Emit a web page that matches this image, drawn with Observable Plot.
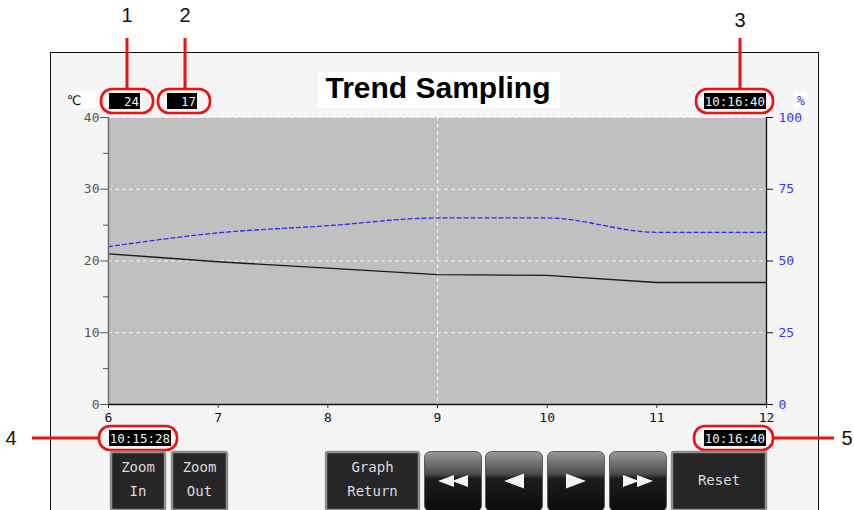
<!DOCTYPE html>
<html>
<head>
<meta charset="utf-8">
<script src="https://cdn.jsdelivr.net/npm/d3@7"></script>
<script src="https://cdn.jsdelivr.net/npm/@observablehq/plot@0.6"></script>
<style>
  html, body { margin: 0; padding: 0; background: #ffffff; }
  #chart { width: 854px; height: 510px; overflow: hidden; }
</style>
</head>
<body>
<div id="chart"></div>
<script>
// ---- data ----
const sampleX = [6, 7, 8, 9, 10, 11, 12];
const temperatureC = [21, 19.9, 19, 18.1, 18, 17, 17];
const humidityPct = [55, 59.8, 62.3, 65, 65, 60, 60];
const tempTicks = [0, 10, 20, 30, 40];
const tempMinorTicks = [5, 15, 25, 35];
const humidityTicks = [0, 25, 50, 75, 100];
const gridXTicks = [9];
const title = "Trend Sampling";
const cursorReadings = ["24", "17"];
const unitLeft = "℃";
const unitRight = "%";
const timeStart = "10:15:28";
const timeEnd = "10:16:40";
const timeCursor = "10:16:40";
const calloutNumbers = ["1", "2", "3", "4", "5"];
const textButtons = [["Zoom", "In"], ["Zoom", "Out"], ["Graph", "Return"], ["Reset"]];

const HUM_SCALE = 0.4; // 100 % spans the same height as 40 ℃
const tempData = sampleX.map((x, i) => ({x, v: temperatureC[i]}));
const humData = sampleX.map((x, i) => ({x, v: humidityPct[i] * HUM_SCALE}));

const MONO = "DejaVu Sans Mono, Liberation Mono, monospace";
const SANS = "Liberation Sans, Arial, sans-serif";

const plot = Plot.plot({
  width: 854,
  height: 510,
  marginLeft: 108,
  marginRight: 88,
  marginTop: 117,
  marginBottom: 106,
  style: {background: "transparent", overflow: "visible", fontFamily: MONO, fontSize: "13px"},
  x: {domain: [6, 12]},
  y: {domain: [0, 40]},
  marks: [
    Plot.frame({fill: "#c0c0c0", stroke: null}),
    Plot.gridY(tempTicks.filter(d => d > 0), {stroke: "#f2f2f2", strokeOpacity: 1, strokeDasharray: "4,3", strokeWidth: 1}),
    Plot.gridX(gridXTicks, {stroke: "#f2f2f2", strokeOpacity: 1, strokeDasharray: "4,3", strokeWidth: 1}),
    Plot.line(humData, {x: "x", y: "v", stroke: "#2a2aff", strokeWidth: 1.3, strokeDasharray: "4,3", curve: "monotone-x"}),
    Plot.line(tempData, {x: "x", y: "v", stroke: "#1a1a1a", strokeWidth: 1.4}),
    Plot.ruleX([6], {stroke: "#6e6e6e", strokeWidth: 1.5}),
    Plot.ruleX([12], {stroke: "#111", strokeWidth: 1.3}),
    Plot.ruleY([0], {stroke: "#111", strokeWidth: 1.3}),
    Plot.axisY({ticks: tempTicks, anchor: "left", tickSize: 8, tickPadding: 1, stroke: "#555", fill: "#555",
      fontSize: 13, tickFormat: d => String(d), label: null}),
    Plot.axisY({ticks: tempMinorTicks, anchor: "left", tickSize: 5, stroke: "#555", text: null, label: null}),
    Plot.axisY({ticks: humidityTicks.map(d => d * HUM_SCALE), anchor: "right", tickSize: 6, tickPadding: 6,
      stroke: "#111", fill: "#3535ff", fontSize: 13,
      tickFormat: d => String(Math.round(d / HUM_SCALE)), label: null}),
    Plot.axisX({ticks: sampleX, anchor: "bottom", tickSize: 4, tickPadding: 4, stroke: "#333", fill: "#111",
      fontSize: 13, tickFormat: d => String(d), label: null})
  ]
});

document.getElementById("chart").appendChild(plot);

// ---- HMI decorations around the chart ----
const svg = d3.select(plot);
const xs = plot.scale("x");
const x6 = xs.apply(6), x12 = xs.apply(12);

// panel background (behind the chart)
svg.insert("rect", ":first-child")
  .attr("x", 50.5).attr("y", 52.5).attr("width", 768).attr("height", 470)
  .attr("fill", "#f5f5f5").attr("stroke", "#111").attr("stroke-width", 1);
svg.insert("rect", ":first-child")
  .attr("x", 0).attr("y", 0).attr("width", 854).attr("height", 510).attr("fill", "#ffffff");

const deco = svg.append("g");
const defs = svg.append("defs");
const g1 = defs.append("linearGradient").attr("id", "gloss").attr("x1", 0).attr("y1", 0).attr("x2", 0).attr("y2", 1);
g1.append("stop").attr("offset", "0%").attr("stop-color", "#9a9a9a");
g1.append("stop").attr("offset", "38%").attr("stop-color", "#4a4a4a");
g1.append("stop").attr("offset", "45%").attr("stop-color", "#1c1c1c");
g1.append("stop").attr("offset", "100%").attr("stop-color", "#0c0c0c");

// title
deco.append("rect").attr("x", 318).attr("y", 72).attr("width", 242).attr("height", 36).attr("fill", "#ffffff");
deco.append("text").attr("x", 438).attr("y", 98).attr("text-anchor", "middle")
  .attr("font-family", SANS).attr("font-weight", "bold").attr("font-size", 30).attr("fill", "#000").text(title);

// unit labels
deco.append("rect").attr("x", 73).attr("y", 91).attr("width", 23).attr("height", 17).attr("fill", "#fff");
deco.append("text").attr("x", 74).attr("y", 105).attr("font-family", "DejaVu Sans, sans-serif").attr("font-size", 13).attr("fill", "#111").text(unitLeft);
deco.append("rect").attr("x", 795).attr("y", 92).attr("width", 12).attr("height", 16).attr("fill", "#fff");
deco.append("text").attr("x", 801).attr("y", 105).attr("text-anchor", "middle").attr("font-family", MONO).attr("font-size", 13).attr("fill", "#3535ff").text(unitRight);

function valueBox(x, y, w, txt) {
  deco.append("rect").attr("x", x).attr("y", y).attr("width", w).attr("height", 16).attr("fill", "#000");
  deco.append("text").attr("x", x + w - 1).attr("y", y + 13).attr("text-anchor", "end")
    .attr("font-family", MONO).attr("font-size", 12.5).attr("fill", "#f0f0f0").text(txt);
}
function callout(x, y, w, h) {
  deco.append("rect").attr("x", x).attr("y", y).attr("width", w).attr("height", h).attr("rx", 11)
    .attr("fill", "none").attr("stroke", "#ee1111").attr("stroke-width", 2.6);
}
function leader(x1, y1, x2, y2) {
  deco.append("line").attr("x1", x1).attr("y1", y1).attr("x2", x2).attr("y2", y2)
    .attr("stroke", "#ee1111").attr("stroke-width", 3);
}
function num(x, y, t) {
  deco.append("text").attr("x", x).attr("y", y).attr("text-anchor", "middle")
    .attr("font-family", SANS).attr("font-size", 20).attr("fill", "#111").text(t);
}

// cursor readings (1, 2)
valueBox(109, 93, 31, cursorReadings[0]);
valueBox(167, 93, 30, cursorReadings[1]);
callout(101, 89, 52, 24);
callout(158, 89, 52, 24);
leader(127, 38, 127, 89); num(127, 22, calloutNumbers[0]);
leader(185, 38, 185, 89); num(185, 22, calloutNumbers[1]);

// cursor time (3)
valueBox(704, 93, 62, timeCursor);
callout(696, 89, 77, 24);
leader(740, 38, 740, 89); num(740, 27, calloutNumbers[2]);

// start time (4) and end time (5)
valueBox(x6 + 1, 430, 62, timeStart);
callout(x6 - 9, 426, 78, 24);
leader(32, 438, 99, 438); num(11, 445, calloutNumbers[3]);
valueBox(x12 - 62, 430, 62, timeEnd);
callout(x12 - 72, 426, 79, 24);
leader(773, 438, 834, 438); num(847, 445, calloutNumbers[4]);

// flat text buttons
function flatButton(x, w, lines) {
  deco.append("rect").attr("x", x + 1).attr("y", 452).attr("width", w - 2).attr("height", 58).attr("rx", 2)
    .attr("fill", "#262626").attr("stroke", "#8e8e8e").attr("stroke-width", 2.5);
  const ys = lines.length === 2 ? [472, 496] : [485];
  lines.forEach((t, i) => deco.append("text").attr("x", x + w / 2).attr("y", ys[i]).attr("text-anchor", "middle")
    .attr("font-family", MONO).attr("font-size", 14).attr("fill", "#dcdcdc").text(t));
}
flatButton(110, 56, textButtons[0]);
flatButton(171, 57, textButtons[1]);
flatButton(325, 95, textButtons[2]);
flatButton(671, 96, textButtons[3]);

// glossy arrow buttons
function glossButton(x, w, dir, count) {
  deco.append("rect").attr("x", x + 0.5).attr("y", 451.5).attr("width", w - 1).attr("height", 60).attr("rx", 6)
    .attr("fill", "url(#gloss)").attr("stroke", "#5a5a5a").attr("stroke-width", 1);
  const cx = x + w / 2, cy = 481;
  const tw = count === 2 ? 16 : 20, th = count === 2 ? 12 : 15;
  const total = count === 2 ? tw * 2 - 2 : tw;
  for (let i = 0; i < count; i++) {
    const left = cx - total / 2 + i * (tw - 2);
    const pts = dir < 0
      ? [[left, cy], [left + tw, cy - th / 2], [left + tw, cy + th / 2]]
      : [[left + tw, cy], [left, cy - th / 2], [left, cy + th / 2]];
    deco.append("polygon").attr("points", pts.map(p => p.join(",")).join(" ")).attr("fill", "#f4f4f4");
  }
}
glossButton(424, 58, -1, 2);
glossButton(485, 58, -1, 1);
glossButton(547, 58, 1, 1);
glossButton(609, 58, 1, 2);
</script>
</body>
</html>
